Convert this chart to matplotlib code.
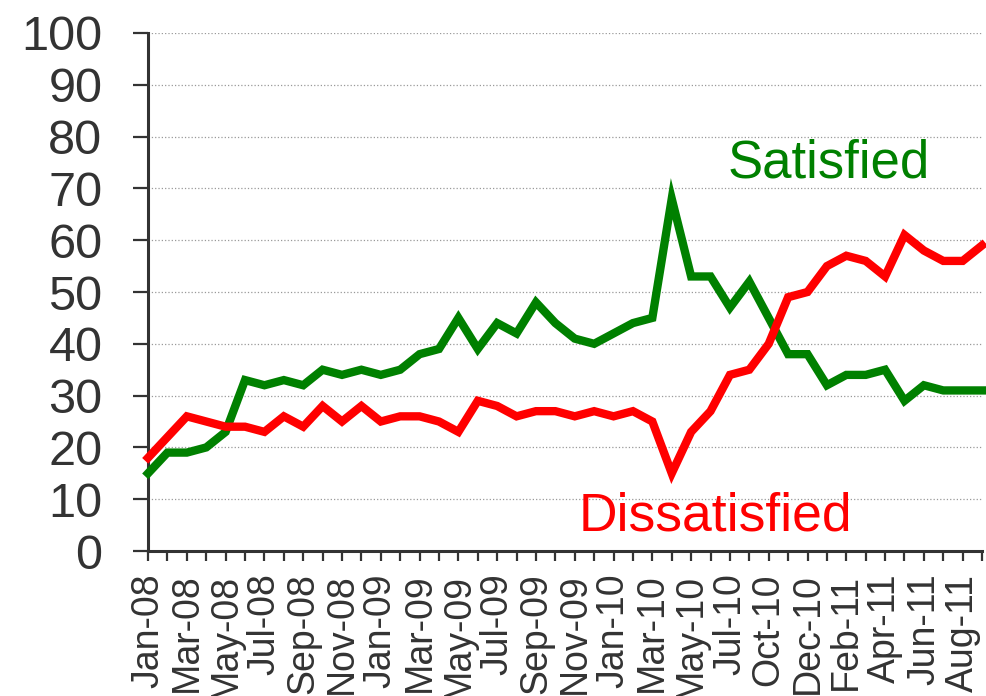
import matplotlib
matplotlib.use('Agg')
import matplotlib.pyplot as plt

# survey months (one point per poll)
months = ['Jan-08', 'Feb-08', 'Mar-08', 'Apr-08', 'May-08', 'Jun-08', 'Jul-08', 'Aug-08',
          'Sep-08', 'Oct-08', 'Nov-08', 'Dec-08', 'Jan-09', 'Feb-09', 'Mar-09', 'Apr-09',
          'May-09', 'Jun-09', 'Jul-09', 'Aug-09', 'Sep-09', 'Oct-09', 'Nov-09', 'Dec-09',
          'Jan-10', 'Feb-10', 'Mar-10', 'Apr-10', 'May-10', 'Jun-10', 'Jul-10', 'Sep-10',
          'Oct-10', 'Nov-10', 'Dec-10', 'Jan-11', 'Feb-11', 'Mar-11', 'Apr-11', 'May-11',
          'Jun-11', 'Jul-11', 'Aug-11', 'Sep-11']

satisfied = [15, 19, 19, 20, 23, 33, 32, 33, 32, 35, 34, 35, 34, 35, 38, 39,
             45, 39, 44, 42, 48, 44, 41, 40, 42, 44, 45, 68, 53, 53, 47, 52,
             45, 38, 38, 32, 34, 34, 35, 29, 32, 31, 31, 31]

dissatisfied = [18, 22, 26, 25, 24, 24, 23, 26, 24, 28, 25, 28, 25, 26, 26, 25,
                23, 29, 28, 26, 27, 27, 26, 27, 26, 27, 25, 15, 23, 27, 34, 35,
                40, 49, 50, 55, 57, 56, 53, 61, 58, 56, 56, 59]

yticks = list(range(0, 101, 10))

plt.rcParams['font.family'] = ['Liberation Sans', 'DejaVu Sans']
dark = '#333333'

fig = plt.figure(figsize=(9.87, 6.96), dpi=100)
ax = fig.add_axes([0.15, 0.2083, 0.845, 0.7443])

x = list(range(len(months)))
ax.plot(x, satisfied, color='#008000', lw=6, solid_joinstyle='miter', zorder=3, clip_on=False)
ax.plot(x, dissatisfied, color='#ff0000', lw=6, solid_joinstyle='miter', zorder=3, clip_on=False)

ax.set_xlim(0, len(months) - 1)
ax.set_ylim(0, 100)

ax.set_yticks(yticks)
ax.set_yticklabels([str(v) for v in yticks])
ax.set_xticks(x)
ax.set_xticklabels([m if i % 2 == 0 else '' for i, m in enumerate(months)], rotation=90)

ax.tick_params(axis='y', length=10.8, width=1.6, color=dark, labelsize=35,
               labelcolor=dark, pad=22)
ax.tick_params(axis='x', length=7.2, width=1.6, color=dark, labelsize=27,
               labelcolor=dark, pad=9)

for s in ['top', 'right']:
    ax.spines[s].set_visible(False)
for s in ['left', 'bottom']:
    ax.spines[s].set_color(dark)
    ax.spines[s].set_linewidth(2.2)

ax.yaxis.grid(True, linestyle=':', color='#999999', linewidth=0.9)
ax.set_axisbelow(True)

ax.text(29.9, 72.1, 'Satisfied', color='#008000', fontsize=38, ha='left', va='baseline')
ax.text(22.2, 4.0, 'Dissatisfied', color='#ff0000', fontsize=38.5, ha='left', va='baseline')

fig.savefig('out.png', dpi=100)
